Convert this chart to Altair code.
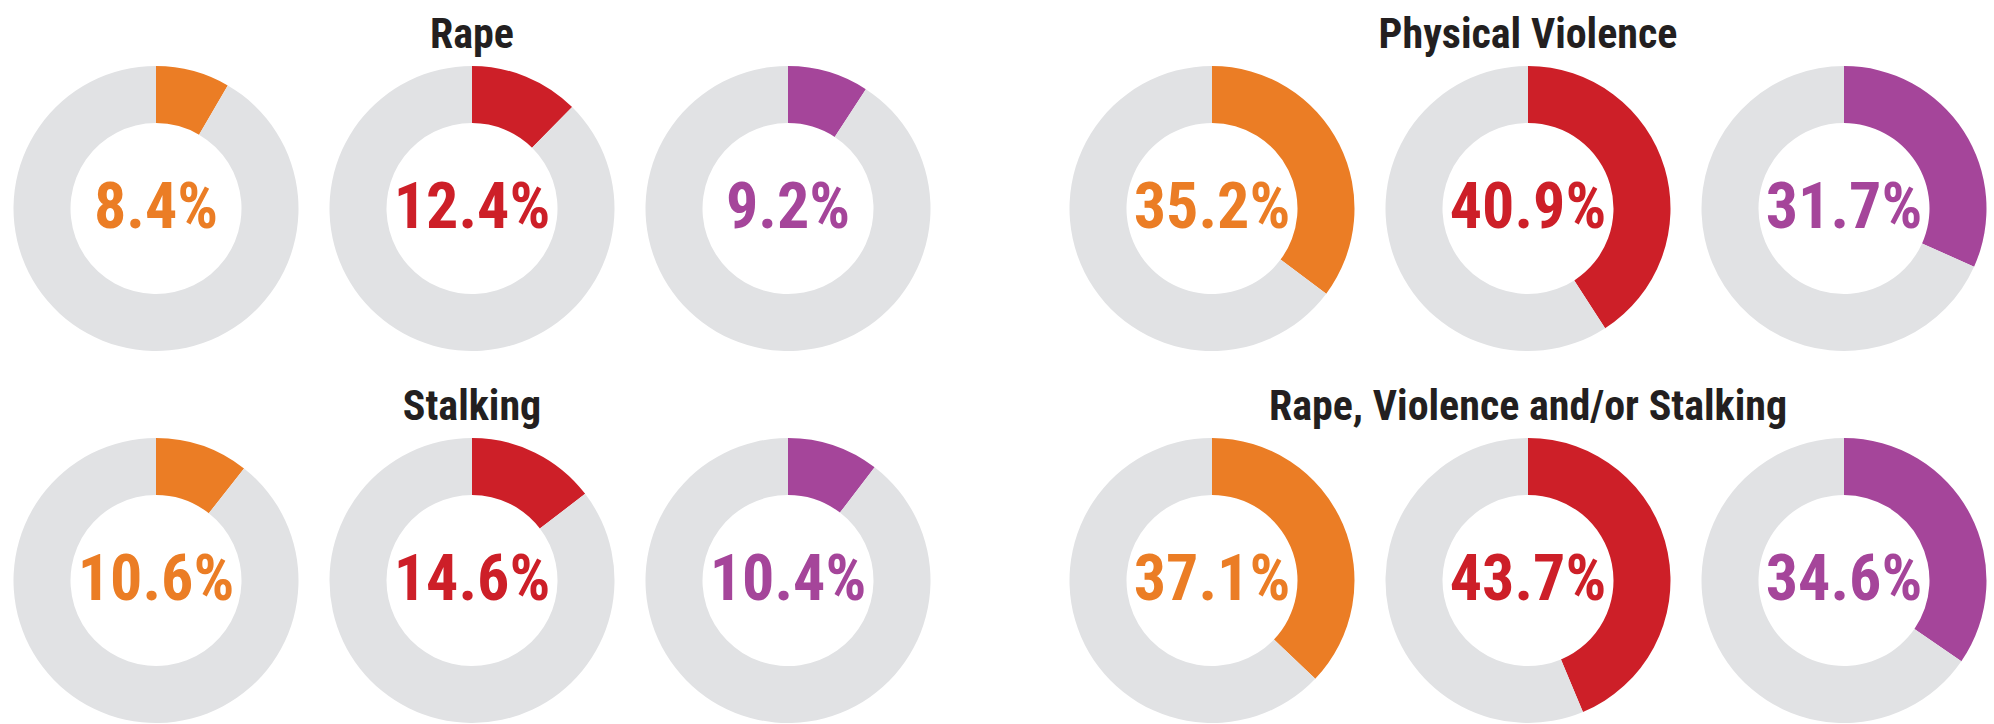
import altair as alt
import pandas as pd

# ---- data ----
groups = ["Rape", "Physical Violence", "Stalking", "Rape, Violence and/or Stalking"]
series = ["Series 1", "Series 2", "Series 3"]
rape = [8.4, 12.4, 9.2]
physical = [35.2, 40.9, 31.7]
stalking = [10.6, 14.6, 10.4]
combined = [37.1, 43.7, 34.6]
series_colors = ["#EB7D25", "#CD1F28", "#A5459A"]
rest_color = "#E1E2E4"

values_by_group = dict(zip(groups, [rape, physical, stalking, combined]))

rows = []
for g in groups:
    for s, v in zip(series, values_by_group[g]):
        rows.append({"group": g, "series": s, "part": "value", "key": s, "v": v, "ord": 0})
        rows.append({"group": g, "series": s, "part": "rest", "key": "rest", "v": round(100 - v, 1), "ord": 1})
df = pd.DataFrame(rows)

FONT = "Liberation Sans Narrow, Roboto Condensed, DejaVu Sans Condensed, Liberation Sans, sans-serif"
SIZE = 285
OUTER = 142.5
INNER = 85.5

color_scale = alt.Scale(domain=series + ["rest"], range=series_colors + [rest_color])


def donut(g, s):
    base = alt.Chart(df).transform_filter(
        (alt.datum.group == g) & (alt.datum.series == s)
    )
    arc = base.mark_arc(outerRadius=OUTER, innerRadius=INNER).encode(
        theta=alt.Theta("v:Q", stack=True),
        color=alt.Color("key:N", scale=color_scale, legend=None),
        order=alt.Order("ord:Q", sort="ascending"),
    )
    txt = base.transform_filter(alt.datum.part == "value").transform_calculate(
        label="format(datum.v, '.1f') + '%'"
    ).mark_text(
        font=FONT, fontSize=64, fontWeight="bold", baseline="middle", align="center"
    ).encode(
        text="label:N",
        color=alt.Color("key:N", scale=color_scale, legend=None),
    )
    return alt.layer(arc, txt).properties(width=SIZE, height=SIZE)


def group_chart(g):
    return alt.hconcat(
        *[donut(g, s) for s in series],
        spacing=31,
        title=alt.TitleParams(
            g, font=FONT, fontSize=42, fontWeight="bold", color="#231F20",
            anchor="middle", offset=9,
        ),
    )


row1 = alt.hconcat(group_chart(groups[0]), group_chart(groups[1]), spacing=139)
row2 = alt.hconcat(group_chart(groups[2]), group_chart(groups[3]), spacing=139)

chart = alt.vconcat(row1, row2, spacing=35).properties(
    padding={"left": 13.5, "top": 14, "right": 0, "bottom": 0},
    background="white",
).configure_view(strokeWidth=0).configure_concat(spacing=31)

chart.save("out.html", embed_options={"renderer": "svg", "actions": False})
